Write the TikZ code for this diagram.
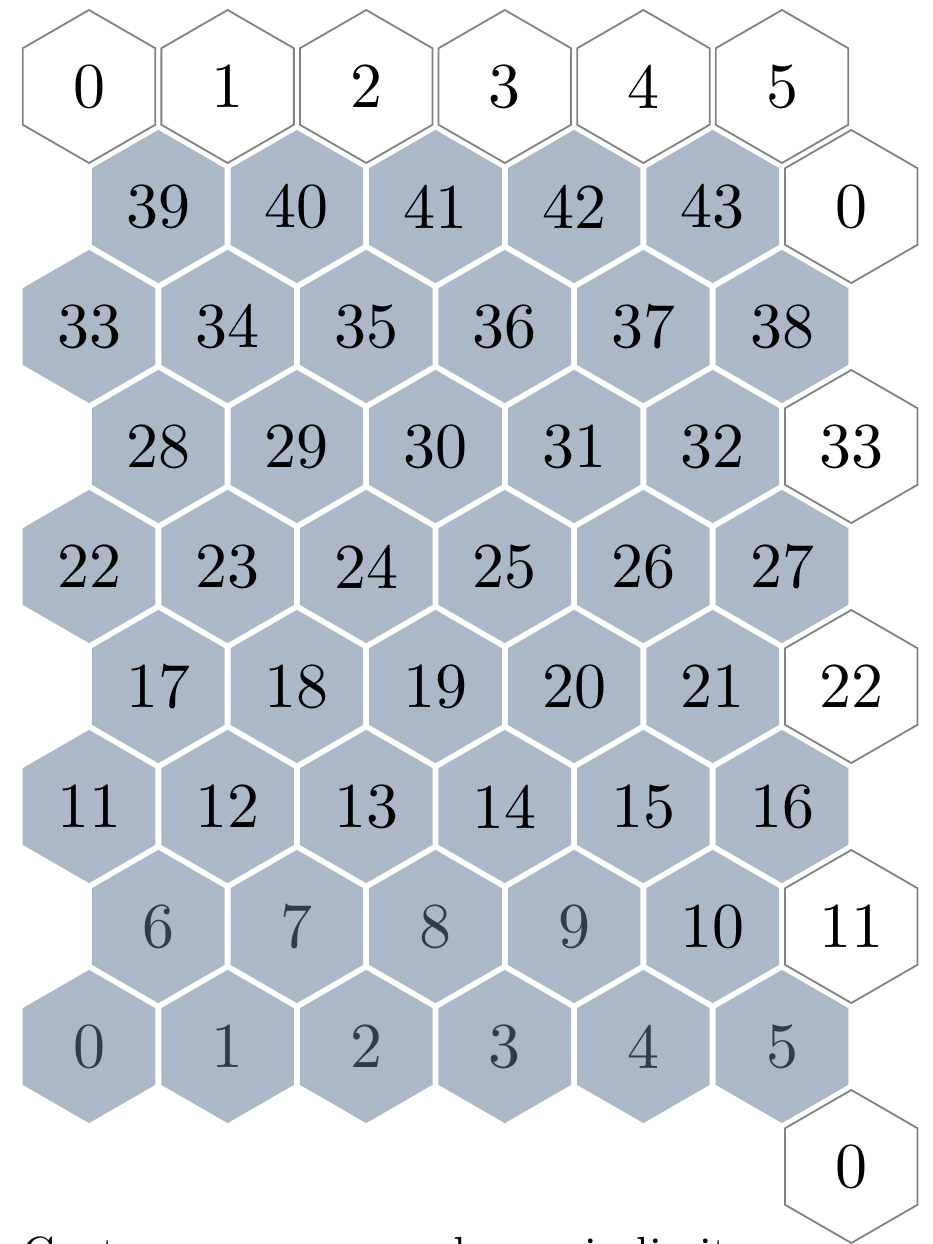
\documentclass[tikz,border=0pt]{standalone}
\usepackage{fontspec}
\setmainfont{lmroman10-regular.otf}
\definecolor{hexgray}{RGB}{170,184,200}
\definecolor{slate}{RGB}{46,60,78}
\definecolor{edgegray}{RGB}{130,130,130}
\tikzset{
  whitehex/.style={draw=edgegray, line width=1.8pt, fill=white, line join=miter},
  grayhex/.style={fill=hexgray},
  numtext/.style={font=\fontsize{64}{70}\selectfont, inner sep=0pt, text=black},
  slatetext/.style={numtext, text=slate},
  captiontext/.style={font=\fontsize{45}{50}\selectfont, inner sep=0pt, anchor=base west}
}
\newcommand{\hexshape}[3]{%
  \path[#1, shift={(#2)}] (30:#3) -- (90:#3) -- (150:#3) -- (210:#3) -- (270:#3) -- (330:#3) -- cycle;}
\begin{document}
\begin{tikzpicture}[x=1pt,y=-1pt]
\useasboundingbox (0,0) rectangle (933,1244);
\clip (0,0) rectangle (933,1244);
\fill[white] (0,0) rectangle (933,1244);
% white (ghost) cells
\foreach \r/\k/\lab in {0/0/0,0/1/1,0/2/2,0/3/3,0/4/4,0/5/5,1/5/0,3/5/33,5/5/22,7/5/11,9/5/0}{
  \pgfmathsetmacro{\cx}{89+69.3*mod(\r,2)+138.6*\k}
  \pgfmathsetmacro{\cy}{86.5+120*\r}
  \coordinate (c-\r-\k) at (\cx,\cy);
  \hexshape{whitehex}{c-\r-\k}{76.5}
  \node[numtext] (n-\r-\k) at (c-\r-\k) {\lab};
}
% gray cells, black numbers
\foreach \r/\k/\lab in {1/0/39,1/1/40,1/2/41,1/3/42,1/4/43,
  2/0/33,2/1/34,2/2/35,2/3/36,2/4/37,2/5/38,
  3/0/28,3/1/29,3/2/30,3/3/31,3/4/32,
  4/0/22,4/1/23,4/2/24,4/3/25,4/4/26,4/5/27,
  5/0/17,5/1/18,5/2/19,5/3/20,5/4/21,
  6/0/11,6/1/12,6/2/13,6/3/14,6/4/15,6/5/16,
  7/4/10}{
  \pgfmathsetmacro{\cx}{89+69.3*mod(\r,2)+138.6*\k}
  \pgfmathsetmacro{\cy}{86.5+120*\r}
  \coordinate (c-\r-\k) at (\cx,\cy);
  \hexshape{grayhex}{c-\r-\k}{76.6}
  \node[numtext] (n-\r-\k) at (c-\r-\k) {\lab};
}
% gray cells, slate numbers
\foreach \r/\k/\lab in {7/0/6,7/1/7,7/2/8,7/3/9,
  8/0/0,8/1/1,8/2/2,8/3/3,8/4/4,8/5/5}{
  \pgfmathsetmacro{\cx}{89+69.3*mod(\r,2)+138.6*\k}
  \pgfmathsetmacro{\cy}{86.5+120*\r}
  \coordinate (c-\r-\k) at (\cx,\cy);
  \hexshape{grayhex}{c-\r-\k}{76.6}
  \node[slatetext] (n-\r-\k) at (c-\r-\k) {\lab};
}
% caption, cut off by the lower edge
\node[captiontext] (caption) at (22,1268) {Contour wraps around once in limits};
\end{tikzpicture}
\end{document}
